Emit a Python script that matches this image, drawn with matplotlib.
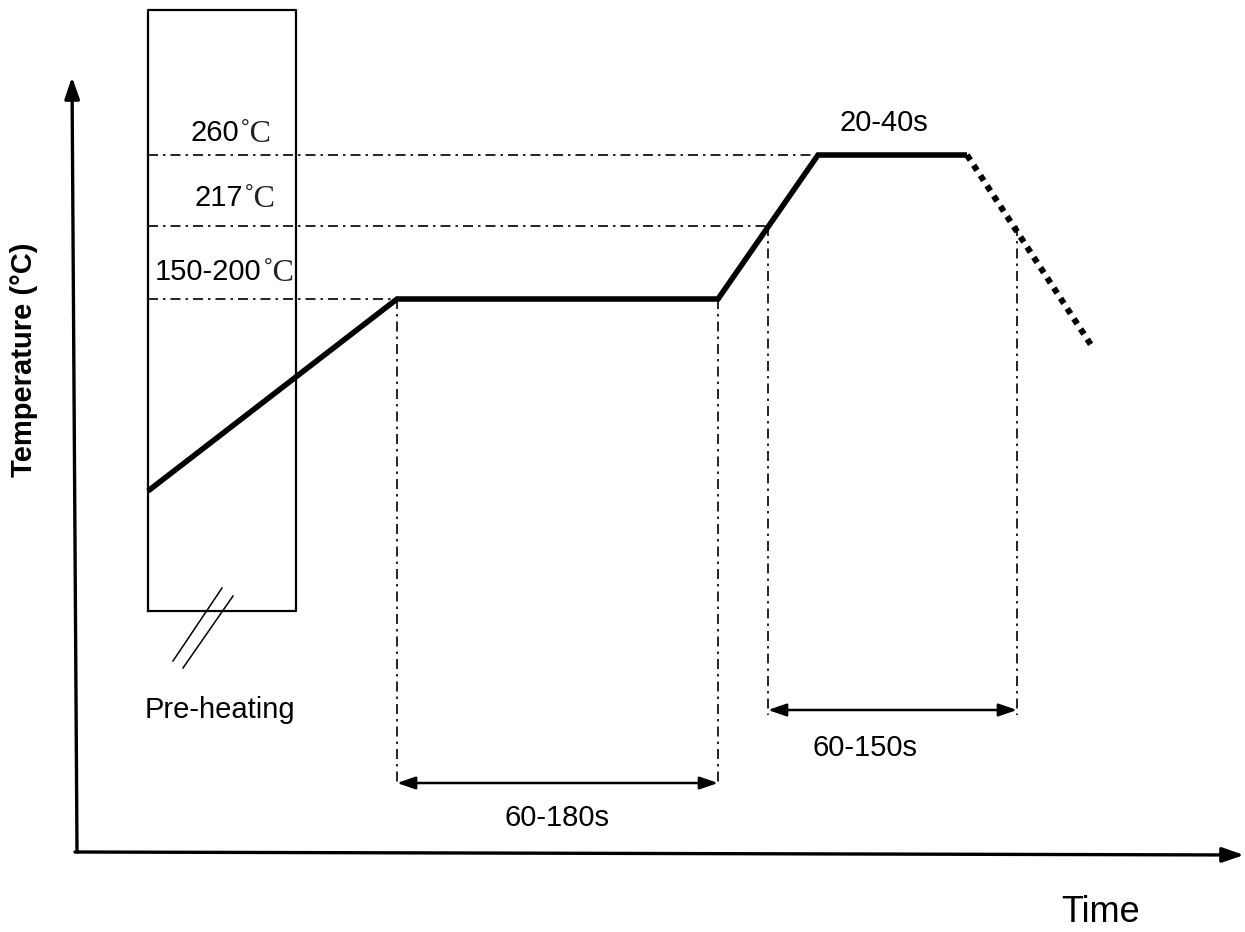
import matplotlib
matplotlib.use("Agg")
import matplotlib.pyplot as plt

# schematic reflow profile, x = time units, y = temperature units (drawing scale)
profile_t = [148, 397, 718, 818, 967]
profile_T = [441, 633, 633, 777, 777]
cool_t = [967, 1093]
cool_T = [777, 584]

level_names = ["260", "217", "150-200"]
level_T = [777, 706, 633]
level_end_t = [818, 768, 397]

vline_t = [397, 718, 768, 1017]
vline_top = [633, 633, 706, 706]
vline_bottom = [147, 147, 217, 217]

span_labels = ["60-180s", "60-150s"]
span_start = [397, 768]
span_end = [718, 1017]
span_T = [149, 222]

box_t = [148, 296]
box_T = [321, 922]

fig = plt.figure(figsize=(12.45, 9.32), dpi=100)
ax = fig.add_axes([0, 0, 1, 1])
ax.set_xlim(0, 1245)
ax.set_ylim(0, 932)
ax.axis("off")

sans = "Liberation Sans"
serif = ["Liberation Serif", "DejaVu Serif"]
dashdot = (0, (6, 3, 1.5, 3))

# axes with arrows
ax.annotate("", xy=(72, 855), xytext=(77, 80),
            arrowprops=dict(arrowstyle="-|>,head_length=1.3,head_width=0.45", lw=2.4, color="k",
                            shrinkA=0, shrinkB=0))
ax.annotate("", xy=(1244, 77), xytext=(75, 80),
            arrowprops=dict(arrowstyle="-|>,head_length=1.3,head_width=0.45", lw=2.4, color="k",
                            shrinkA=0, shrinkB=0))

# pre-heating box
ax.plot([box_t[0], box_t[1], box_t[1], box_t[0], box_t[0]],
        [box_T[0], box_T[0], box_T[1], box_T[1], box_T[0]], color="k", lw=1.6)
ax.plot([173, 222], [271, 344], color="k", lw=1.1)
ax.plot([183, 233], [264, 336], color="k", lw=1.1)

# dash-dot guides
for T, te in zip(level_T, level_end_t):
    ax.plot([box_t[0], te], [T, T], color="k", lw=1.2, linestyle=dashdot)
for t, top, bot in zip(vline_t, vline_top, vline_bottom):
    ax.plot([t, t], [top, bot], color="k", lw=1.2, linestyle=dashdot)

# profile
ax.plot(profile_t, profile_T, color="k", lw=4.0, solid_capstyle="butt", solid_joinstyle="miter")
ax.plot(cool_t, cool_T, color="k", lw=4.4, linestyle=(0, (1, 1)), dash_capstyle="butt")

# spans
for lab, s, e, T in zip(span_labels, span_start, span_end, span_T):
    ax.annotate("", xy=(e, T), xytext=(s, T),
                arrowprops=dict(arrowstyle="<|-|>,head_length=1.1,head_width=0.38", lw=1.8,
                                color="k", shrinkA=0, shrinkB=0))
ax.text((span_start[0] + span_end[0]) / 2, 114, span_labels[0], ha="center", va="center",
        fontsize=21, family=sans)
ax.text(865, 184, span_labels[1], ha="center", va="center", fontsize=21, family=sans)
ax.text(884, 809, "20-40s", ha="center", va="center", fontsize=21, family=sans)

# level labels
level_x = [190, 194, 155]
level_y = [799, 734, 660]
for name, x, y in zip(level_names, level_x, level_y):
    t = ax.text(x, y, name, ha="left", va="center", fontsize=21, family=sans)
    ax.annotate("˚C", xy=(1, 0.5), xycoords=t, xytext=(1, -1), textcoords="offset points",
                ha="left", va="center", fontsize=23, family=serif, color="#222222")

ax.text(220, 222, "Pre-heating", ha="center", va="center", fontsize=21, family=sans)
ax.text(1101, 19, "Time", ha="center", va="center", fontsize=26, family=sans)
ax.text(24, 572, "Temperature (°C)", ha="center", va="center", rotation=90,
        fontsize=21, fontweight="bold", family=sans)

fig.savefig("out.png", dpi=100)
